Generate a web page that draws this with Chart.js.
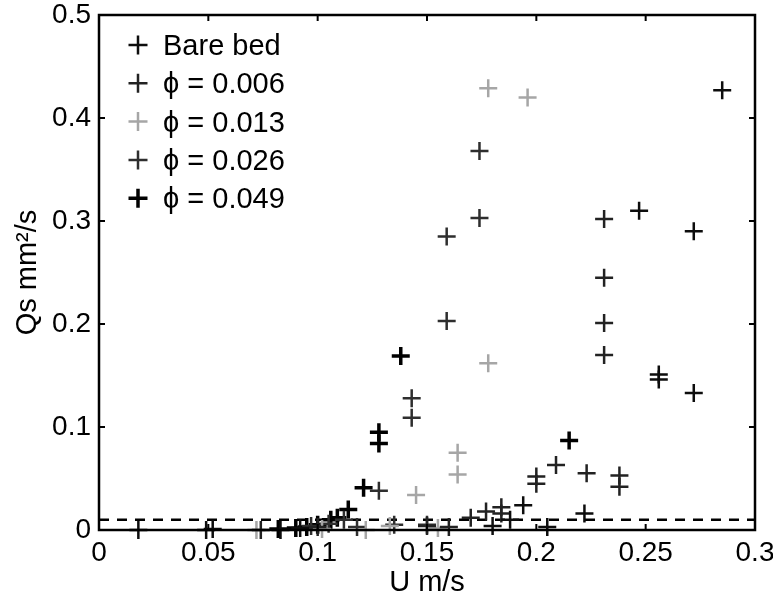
<!DOCTYPE html>
<html>
<head>
<meta charset="utf-8">
<script src="https://cdn.jsdelivr.net/npm/chart.js@4.4.1/dist/chart.umd.min.js"></script>
<style>
  html, body { margin: 0; padding: 0; background: #fff; }
  #wrap { width: 773px; height: 597px; }
</style>
</head>
<body>
<div id="wrap"><canvas id="c" width="773" height="597"></canvas></div>
<script>
// ---- Data ----
const seriesNames = ['Bare bed', 'ϕ = 0.006', 'ϕ = 0.013', 'ϕ = 0.026', 'ϕ = 0.049'];

const uBare = [0.018, 0.049, 0.052, 0.083, 0.092, 0.180, 0.188, 0.194, 0.205, 0.222, 0.247, 0.256, 0.256, 0.272, 0.272, 0.285];
const qBare = [0.000, 0.000, 0.001, 0.000, 0.002, 0.004, 0.010, 0.024, 0.003, 0.016, 0.310, 0.151, 0.146, 0.290, 0.133, 0.427];

const u006 = [0.074, 0.100, 0.150, 0.160, 0.170, 0.177, 0.184, 0.184, 0.200, 0.200, 0.209, 0.223, 0.231, 0.231, 0.231, 0.231, 0.238, 0.238];
const q006 = [0.000, 0.003, 0.004, 0.003, 0.012, 0.018, 0.022, 0.016, 0.052, 0.045, 0.063, 0.055, 0.302, 0.245, 0.201, 0.170, 0.053, 0.042];

const u013 = [0.072, 0.102, 0.122, 0.133, 0.145, 0.155, 0.164, 0.164, 0.178, 0.178, 0.196];
const q013 = [0.000, 0.001, 0.000, 0.004, 0.034, 0.002, 0.075, 0.054, 0.162, 0.429, 0.420];

const u026 = [0.097, 0.105, 0.112, 0.118, 0.128, 0.135, 0.143, 0.143, 0.150, 0.159, 0.159, 0.174, 0.174];
const q026 = [0.004, 0.006, 0.010, 0.003, 0.038, 0.005, 0.128, 0.109, 0.005, 0.285, 0.203, 0.368, 0.303];

const u049 = [0.082, 0.090, 0.095, 0.100, 0.106, 0.109, 0.114, 0.121, 0.128, 0.128, 0.138, 0.215];
const q049 = [0.001, 0.002, 0.003, 0.005, 0.010, 0.012, 0.020, 0.041, 0.095, 0.084, 0.169, 0.087];

const thresholdQ = 0.01;
const xTicks = [0, 0.05, 0.1, 0.15, 0.2, 0.25, 0.3];
const xTickLabels = ['0', '0.05', '0.1', '0.15', '0.2', '0.25', '0.3'];
const yTicks = [0, 0.1, 0.2, 0.3, 0.4, 0.5];
const yTickLabels = ['0', '0.1', '0.2', '0.3', '0.4', '0.5'];

// ---- Styles ----
const colors = ['#0d0d0d', '#222222', '#a6a6a6', '#2e2e2e', '#000000'];
const widths = [2.5, 2.5, 2.5, 2.5, 3.5];
const FONT = '"Liberation Sans", Arial, Helvetica, sans-serif';

const zip = (us, qs) => us.map((u, i) => ({ x: u, y: qs[i] }));
const allU = [uBare, u006, u013, u026, u049];
const allQ = [qBare, q006, q013, q026, q049];

const datasets = seriesNames.map((name, i) => ({
  type: 'scatter',
  label: name,
  data: zip(allU[i], allQ[i]),
  pointStyle: 'cross',
  pointRadius: 9,
  pointHoverRadius: 9,
  borderColor: colors[i],
  backgroundColor: colors[i],
  pointBorderWidth: widths[i],
  borderWidth: widths[i],
  clip: false
}));

datasets.push({
  type: 'line',
  label: 'threshold',
  data: [{ x: xTicks[0], y: thresholdQ }, { x: xTicks[xTicks.length - 1], y: thresholdQ }],
  borderColor: '#000',
  borderWidth: 2.5,
  borderDash: [10, 8],
  pointRadius: 0,
  fill: false
});

// Inward ticks + box
const boxPlugin = {
  id: 'box',
  afterDatasetsDraw(chart) {
    const { ctx, chartArea: a, scales } = chart;
    ctx.save();
    ctx.strokeStyle = '#000';
    ctx.lineWidth = 2.5;
    ctx.strokeRect(a.left, a.top, a.right - a.left, a.bottom - a.top);
    ctx.lineWidth = 2;
    const L = 6;
    xTicks.forEach(v => {
      const px = scales.x.getPixelForValue(v);
      ctx.beginPath();
      ctx.moveTo(px, a.bottom); ctx.lineTo(px, a.bottom - L);
      ctx.moveTo(px, a.top); ctx.lineTo(px, a.top + L);
      ctx.stroke();
    });
    yTicks.forEach(v => {
      const py = scales.y.getPixelForValue(v);
      ctx.beginPath();
      ctx.moveTo(a.left, py); ctx.lineTo(a.left + L, py);
      ctx.moveTo(a.right, py); ctx.lineTo(a.right - L, py);
      ctx.stroke();
    });
    ctx.restore();
  }
};

// Legend drawn inside plot (top-left, no box)
const legendPlugin = {
  id: 'innerLegend',
  afterDatasetsDraw(chart) {
    const { ctx, chartArea: a } = chart;
    ctx.save();
    const x0 = a.left + 39, y0 = a.top + 30, dy = 38.3;
    ctx.font = '29px ' + FONT;
    ctx.textBaseline = 'middle';
    ctx.textAlign = 'left';
    seriesNames.forEach((name, i) => {
      const y = y0 + i * dy;
      ctx.strokeStyle = colors[i];
      ctx.lineWidth = widths[i];
      ctx.beginPath();
      ctx.moveTo(x0 - 9.5, y); ctx.lineTo(x0 + 9.5, y);
      ctx.moveTo(x0, y - 9.5); ctx.lineTo(x0, y + 9.5);
      ctx.stroke();
      ctx.fillStyle = '#000';
      ctx.fillText(name, x0 + 25, y + 2);
    });
    ctx.restore();
  }
};

new Chart(document.getElementById('c'), {
  data: { datasets },
  options: {
    responsive: false,
    animation: false,
    devicePixelRatio: 1,
    layout: { padding: { top: 15, right: 18, left: 0, bottom: 0 } },
    plugins: {
      legend: { display: false },
      tooltip: { enabled: false }
    },
    scales: {
      x: {
        type: 'linear',
        min: 0, max: 0.3,
        afterBuildTicks: s => { s.ticks = xTicks.map(v => ({ value: v })); },
        afterFit: s => { s.height = 67; s.paddingLeft = 0; s.paddingRight = 0; },
        grid: { display: false, drawTicks: false },
        border: { display: false },
        ticks: {
          color: '#000',
          font: { family: FONT, size: 28 },
          padding: 6,
          maxRotation: 0,
          autoSkip: false,
          callback: (v) => { const i = xTicks.findIndex(t => Math.abs(t - v) < 1e-9); return i >= 0 ? xTickLabels[i] : ''; }
        },
        title: {
          display: true, text: 'U m/s', color: '#000',
          font: { family: FONT, size: 29 },
          padding: { top: 0, bottom: -3 }
        }
      },
      y: {
        type: 'linear',
        min: 0, max: 0.5,
        afterBuildTicks: s => { s.ticks = yTicks.map(v => ({ value: v })); },
        afterFit: s => { s.width = 99; s.paddingTop = 0; s.paddingBottom = 0; },
        grid: { display: false, drawTicks: false },
        border: { display: false },
        ticks: {
          color: '#000',
          font: { family: FONT, size: 28 },
          padding: 8,
          autoSkip: false,
          callback: (v) => { const i = yTicks.findIndex(t => Math.abs(t - v) < 1e-9); return i >= 0 ? yTickLabels[i] : ''; }
        },
        title: {
          display: true, text: 'Qs mm²/s', color: '#000',
          font: { family: FONT, size: 29 },
          padding: { top: 11, bottom: 0 }
        }
      }
    }
  },
  plugins: [boxPlugin, legendPlugin]
});
</script>
</body>
</html>
